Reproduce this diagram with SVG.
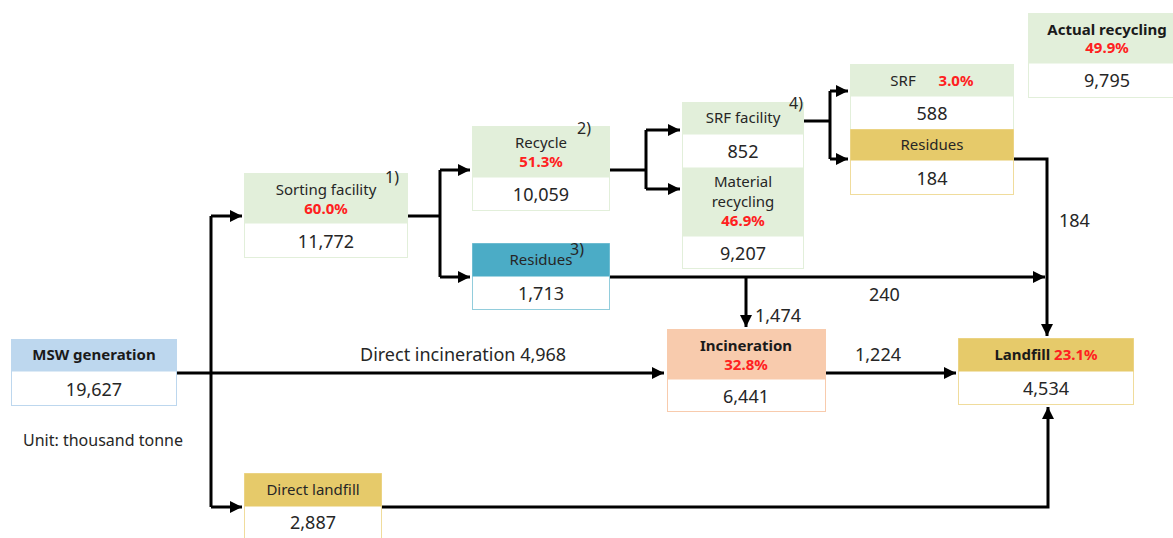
<svg xmlns="http://www.w3.org/2000/svg" width="1173" height="538" viewBox="0 0 1173 538">
<defs>
<marker id="ah" viewBox="0 0 10 10" refX="10" refY="5" markerWidth="4" markerHeight="4" orient="auto" markerUnits="strokeWidth">
<path d="M0,0 L10,5 L0,10 z" fill="#000"/>
</marker>
<style>
text{font-family:"Noto Sans","Open Sans",sans-serif;fill:#262626}
.h{font-size:15px;text-anchor:middle}
.hb{font-size:15px;text-anchor:middle;font-weight:bold;fill:#1a1a1a}
.v{font-size:18px;text-anchor:middle}
.p{font-weight:bold;fill:#ff2020}
.lbl{font-size:18px}
.n{font-size:16px}
.c{fill:none;stroke:#000;stroke-width:3}
</style>
</defs>
<rect width="1173" height="538" fill="#fff"/>

<g id="connectors">
<path class="c" d="M177,373 H664" marker-end="url(#ah)"/>
<path class="c" d="M211,216 V507"/>
<path class="c" d="M211,216 H242" marker-end="url(#ah)"/>
<path class="c" d="M211,507 H242" marker-end="url(#ah)"/>
<path class="c" d="M408,216 H440"/>
<path class="c" d="M440,170 V277"/>
<path class="c" d="M440,170 H470" marker-end="url(#ah)"/>
<path class="c" d="M440,277 H470" marker-end="url(#ah)"/>
<path class="c" d="M610,170 H646"/>
<path class="c" d="M646,130 V189"/>
<path class="c" d="M646,130 H680" marker-end="url(#ah)"/>
<path class="c" d="M646,189 H680" marker-end="url(#ah)"/>
<path class="c" d="M804,121 H830"/>
<path class="c" d="M830,91 V159"/>
<path class="c" d="M830,91 H848" marker-end="url(#ah)"/>
<path class="c" d="M830,159 H848" marker-end="url(#ah)"/>
<path class="c" d="M1014,159 H1047 V336" marker-end="url(#ah)"/>
<path class="c" d="M610,277 H1045" marker-end="url(#ah)"/>
<path class="c" d="M746,277 V327" marker-end="url(#ah)"/>
<path class="c" d="M826,373 H956" marker-end="url(#ah)"/>
<path class="c" d="M382,507 H1048 V407" marker-end="url(#ah)"/>
<text class="lbl" x="360" y="361">Direct incineration 4,968</text>
<text class="lbl" x="755" y="322">1,474</text>
<text class="lbl" x="869" y="301">240</text>
<text class="lbl" x="1059" y="227">184</text>
<text class="lbl" x="855" y="361">1,224</text>
</g>

<g id="msw">
<rect x="11.5" y="339.5" width="165" height="66" fill="#fff" stroke="#bdd7ee"/>
<rect x="11.5" y="339.5" width="165" height="32" fill="#bdd7ee"/>
<text class="hb" x="94" y="360">MSW generation</text>
<text class="v" x="94" y="396">19,627</text>
</g>
<text class="n" x="23" y="446">Unit: thousand tonne</text>

<g id="sorting">
<rect x="244.5" y="173.5" width="163" height="84" fill="#fff" stroke="#e2efda"/>
<rect x="244.5" y="173.5" width="163" height="50" fill="#e2efda"/>
<text class="h" x="326" y="195">Sorting facility</text>
<text class="h p" x="326" y="214">60.0%</text>
<text class="v" x="326" y="248">11,772</text>
<text class="n" x="385" y="183">1)</text>
</g>

<g id="recycle">
<rect x="472.5" y="126.5" width="137" height="84" fill="#fff" stroke="#e2efda"/>
<rect x="472.5" y="126.5" width="137" height="51" fill="#e2efda"/>
<text class="h" x="541" y="148">Recycle</text>
<text class="h p" x="541" y="167">51.3%</text>
<text class="v" x="541" y="201">10,059</text>
<text class="n" x="577" y="134">2)</text>
</g>

<g id="residues1">
<rect x="472.5" y="243.5" width="137" height="66" fill="#fff" stroke="#92cddc"/>
<rect x="472.5" y="243.5" width="137" height="33" fill="#4bacc6"/>
<text class="h" x="541" y="265">Residues</text>
<text class="n" x="570" y="255">3)</text>
<text class="v" x="541" y="300">1,713</text>
</g>

<g id="srf-facility">
<rect x="682.5" y="102.5" width="121" height="166" fill="#fff" stroke="#e2efda"/>
<rect x="682.5" y="102.5" width="121" height="32" fill="#e2efda"/>
<text class="h" x="743" y="123">SRF facility</text>
<text class="v" x="743" y="158">852</text>
<text class="n" x="789" y="109">4)</text>
</g>

<g id="material">
<rect x="682.5" y="167.5" width="121" height="69" fill="#e2efda"/>
<text class="h" x="743" y="187">Material</text>
<text class="h" x="743" y="207">recycling</text>
<text class="h p" x="743" y="226">46.9%</text>
<text class="v" x="743" y="260">9,207</text>
</g>

<g id="srf">
<rect x="850.5" y="64.5" width="163" height="65" fill="#fff" stroke="#e2efda"/>
<rect x="850.5" y="64.5" width="163" height="32" fill="#e2efda"/>
<text class="h" x="903" y="86">SRF</text>
<text class="h p" x="956" y="86">3.0%</text>
<text class="v" x="932" y="120">588</text>
</g>

<g id="residues2">
<rect x="850.5" y="129.5" width="163" height="65" fill="#fff" stroke="#f0dc9c"/>
<rect x="850.5" y="129.5" width="163" height="31" fill="#e6ca6a"/>
<text class="h" x="932" y="150">Residues</text>
<text class="v" x="932" y="185">184</text>
</g>

<g id="actual">
<rect x="1028.5" y="13.5" width="150" height="84" fill="#fff" stroke="#e2efda"/>
<rect x="1028.5" y="13.5" width="150" height="50" fill="#e2efda"/>
<text class="hb" x="1107" y="35">Actual recycling</text>
<text class="h p" x="1107" y="53">49.9%</text>
<text class="v" x="1107" y="87">9,795</text>
</g>

<g id="incineration">
<rect x="667.5" y="329.5" width="158" height="82" fill="#fff" stroke="#f8cbad"/>
<rect x="667.5" y="329.5" width="158" height="50" fill="#f8cbad"/>
<text class="hb" x="746" y="351">Incineration</text>
<text class="h p" x="746" y="370">32.8%</text>
<text class="v" x="746" y="403">6,441</text>
</g>

<g id="landfill">
<rect x="958.5" y="338.5" width="175" height="66" fill="#fff" stroke="#f0dc9c"/>
<rect x="958.5" y="338.5" width="175" height="33" fill="#e6ca6a"/>
<text x="1046" y="360" style="font-size:15px;text-anchor:middle;font-weight:bold"><tspan fill="#1a1a1a">Landfill </tspan><tspan fill="#ff2020">23.1%</tspan></text>
<text class="v" x="1046" y="395">4,534</text>
</g>

<g id="direct-landfill">
<rect x="244.5" y="473.5" width="137" height="70" fill="#fff" stroke="#f0dc9c"/>
<rect x="244.5" y="473.5" width="137" height="33" fill="#e6ca6a"/>
<text class="h" x="313" y="495">Direct landfill</text>
<text class="v" x="313" y="529">2,887</text>
</g>
</svg>
